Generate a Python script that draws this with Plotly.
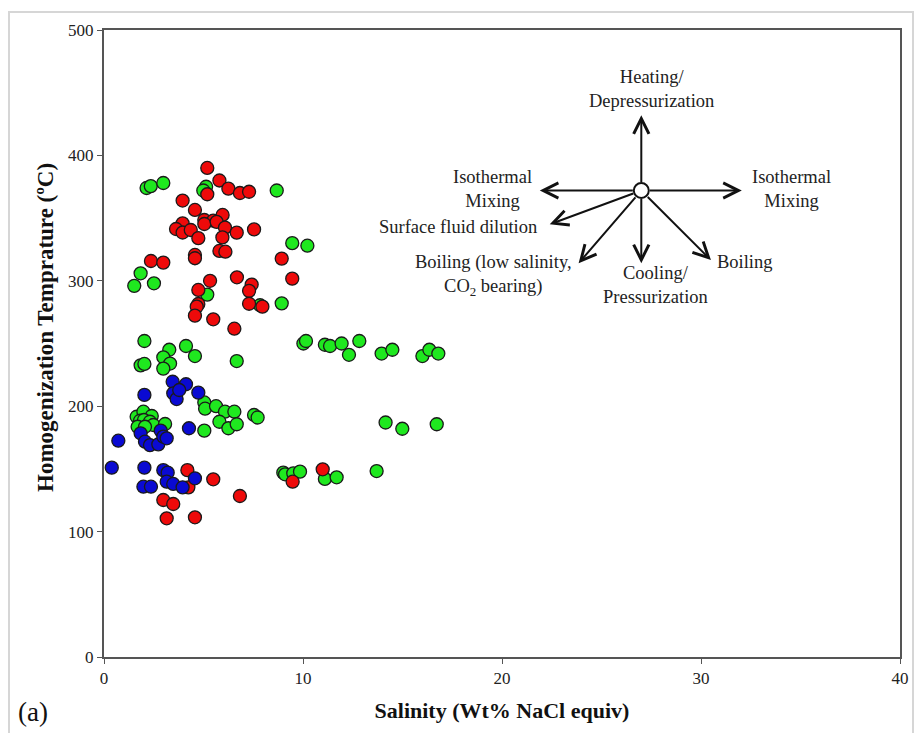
import plotly.graph_objects as go

# ---- data (Salinity wt% NaCl equiv, Homogenization temperature °C) ----
green_sal = [2.14, 2.35, 2.98, 5.13, 4.99, 8.68,
             9.46, 10.22,
             1.84, 1.52, 2.51, 5.19, 7.84, 8.93,
             2.03, 3.28, 4.12, 4.57, 2.98, 1.84, 2.03, 3.32, 2.98, 6.67,
             10.02, 10.15, 11.1, 11.36, 11.94, 12.31, 12.83, 13.95, 14.49, 16.0, 16.35, 16.8,
             1.64, 1.98, 2.40, 1.81, 2.01, 2.31, 2.48, 1.69, 2.06, 3.07,
             5.04, 5.08, 5.63, 6.08, 6.55, 5.80, 6.25, 6.67, 7.54, 7.72, 5.04,
             9.01, 9.10, 9.51, 9.85, 11.1, 11.69, 13.7,
             14.15, 14.99, 16.72]
green_th = [374, 375.5, 378, 375, 372, 372,
            330, 328,
            306, 296, 298, 289, 280.5, 282,
            252, 245, 248, 240, 239, 232.6, 233.7, 234, 230, 236,
            250, 252, 249, 248, 250, 241, 252, 242, 245, 240, 245, 242,
            191.6, 195.6, 192.2, 188.4, 189, 187.6, 185, 183.6, 183.6, 185.8,
            203, 198, 200, 195.6, 195.6, 187.6, 182.4, 185.6, 193, 191, 180.5,
            147, 145.7, 146.5, 147.8, 142, 143.3, 148.3,
            187, 182, 185.6]

red_sal = [5.19, 5.80, 5.19, 6.25, 6.83, 7.29, 3.95, 4.57, 5.96, 5.04, 5.49, 5.04, 5.66,
           3.95, 3.62, 3.95, 4.36, 4.74, 6.08, 6.67, 7.54, 5.95, 4.57, 4.57, 5.80, 6.10,
           2.36, 2.98, 8.93, 9.46, 6.68, 5.33, 7.42, 7.29, 4.74, 4.74, 4.66, 7.29, 7.96,
           4.57, 5.49, 6.55,
           4.19, 5.49, 4.24, 6.83, 2.98, 3.48, 3.15, 4.57, 9.48, 10.99]
red_th = [390, 380, 369, 373.5, 370, 371, 364, 356.5, 352.5, 348.5, 348, 345.3, 347,
          345.8, 341.3, 338.5, 340.5, 334, 342.4, 338.4, 341, 334.6, 320.6, 318, 323.8, 323.2,
          315.8, 314.5, 317.7, 301.7, 302.8, 300, 297, 292, 292.7, 281.5, 279.4, 281.7, 279.4,
          272.2, 269.3, 261.8,
          149, 141.7, 135.3, 128.4, 125.2, 122, 110.6, 111.4, 139.8, 149.7]

blue_sal = [3.45, 4.12, 3.48, 3.65, 3.78, 2.03, 4.74, 4.27,
            1.84, 2.06, 2.31, 2.73, 2.85, 2.98, 3.15,
            0.72, 0.39, 2.03, 2.98, 3.2, 1.98, 2.36, 3.15, 3.48, 3.95, 4.57]
blue_th = [219.5, 217.5, 210.3, 205.7, 212.9, 209, 210.8, 182.4,
           178.4, 171.7, 169, 169.6, 180.5, 175.7, 174.4,
           172.5, 151, 151, 149, 147, 135.8, 135.8, 139.8, 138, 135.3, 142.5]

# trend diagram: origin and arrow tips
diag_center = (27.0, 372.0)
arrow_tips_sal = [27.0, 32.05, 21.9, 22.4, 23.85, 27.0, 30.5]
arrow_tips_th = [432.0, 372.0, 372.0, 345.0, 314.0, 314.0, 316.5]

x_ticks = [0, 10, 20, 30, 40]
y_ticks = [0, 100, 200, 300, 400, 500]

FONT = "Liberation Serif"

fig = go.Figure()

def add_series(xs, ys, color):
    fig.add_trace(go.Scatter(
        x=xs, y=ys, mode="markers",
        marker=dict(size=13, color=color, line=dict(color="#1a1a1a", width=1.3)),
        showlegend=False, hoverinfo="skip"))

add_series(green_sal, green_th, "#1fe81f")
add_series(red_sal, red_th, "#ee0a0a")
add_series(blue_sal, blue_th, "#0a0ad2")

# arrows
for tx, ty in zip(arrow_tips_sal, arrow_tips_th):
    fig.add_annotation(x=tx, y=ty, ax=diag_center[0], ay=diag_center[1],
                       xref="x", yref="y", axref="x", ayref="y",
                       text="", showarrow=True, arrowhead=5, arrowsize=1.5,
                       arrowwidth=2, arrowcolor="#111111", startstandoff=7)

# center circle
fig.add_trace(go.Scatter(x=[diag_center[0]], y=[diag_center[1]], mode="markers",
                         marker=dict(size=15, color="white", line=dict(color="#111111", width=2)),
                         showlegend=False, hoverinfo="skip"))

W, H = 914, 733
L, R, T, B = 104, 14, 30, 76
pw, ph = W - L - R, H - T - B

def px(xp):
    return (xp - L) / pw

def py(yp):
    return (H - B - yp) / ph

labels = [
    ("Heating/<br>Depressurization", 651, 89),
    ("Isothermal<br>Mixing", 492, 189),
    ("Isothermal<br>Mixing", 791, 189),
    ("Surface fluid dilution", 458, 227),
    ("Boiling (low salinity,<br>CO<sub>2</sub> bearing)", 493, 275),
    ("Cooling/<br>Pressurization", 655, 285),
    ("Boiling", 745, 262),
]
for txt, xp, yp in labels:
    fig.add_annotation(x=px(xp), y=py(yp), xref="paper", yref="paper",
                       text=txt, showarrow=False, xanchor="center", yanchor="middle",
                       font=dict(family=FONT, size=18.5, color="#222222"))

fig.add_annotation(x=px(33), y=py(712), xref="paper", yref="paper", text="(a)",
                   showarrow=False, xanchor="center", yanchor="middle",
                   font=dict(family=FONT, size=27, color="#111111"))

# y-axis title (placed as rotated text to match reference position)
fig.add_annotation(x=px(45), y=py(328), xref="paper", yref="paper",
                   text="<b>Homogenization Temprature (ºC)</b>", textangle=-90,
                   showarrow=False, xanchor="center", yanchor="middle",
                   font=dict(family=FONT, size=23, color="#111111"))

# outer light border
fig.add_shape(type="rect", xref="paper", yref="paper",
              x0=px(9), x1=px(913), y0=py(745), y1=py(12),
              line=dict(color="#d6d6d6", width=2), fillcolor="rgba(0,0,0,0)", layer="below")

fig.update_layout(
    width=W, height=H,
    margin=dict(l=L, r=R, t=T, b=B, autoexpand=False),
    paper_bgcolor="white", plot_bgcolor="white",
    font=dict(family=FONT, color="#222222"),
    xaxis=dict(range=[0, 40], tickvals=x_ticks, ticks="outside", ticklen=5,
               tickcolor="#555555", showline=True, linecolor="#555555", linewidth=2,
               mirror=True, showgrid=False, zeroline=False, automargin=False,
               tickfont=dict(family=FONT, size=17, color="#222222"),
               title=dict(text="<b>Salinity (Wt% NaCl equiv)</b>",
                          font=dict(family=FONT, size=22, color="#111111"), standoff=15)),
    yaxis=dict(range=[0, 500], tickvals=y_ticks, ticks="outside", ticklen=5,
               tickcolor="#555555", showline=True, linecolor="#555555", linewidth=2,
               mirror=True, showgrid=False, zeroline=False, automargin=False,
               tickfont=dict(family=FONT, size=17, color="#222222")),
)

fig.write_html("out.html")
